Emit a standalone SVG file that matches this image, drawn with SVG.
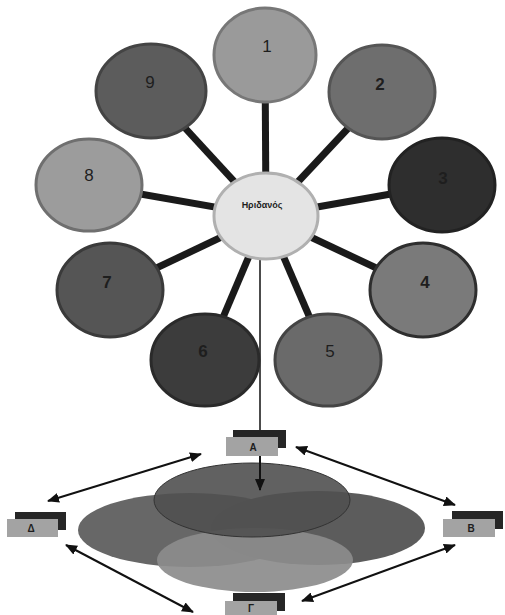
<svg xmlns="http://www.w3.org/2000/svg" width="505" height="615" viewBox="0 0 505 615">
<style>
.spoke{stroke:#1a1a1a;stroke-width:7;stroke-linecap:butt}
.node{stroke-width:3}
.num{font-family:"Liberation Sans",Arial,sans-serif;font-size:17px;fill:#1e1e1e;text-anchor:middle}
.b{font-weight:bold}
.arr{stroke:#111;stroke-width:2;fill:none;marker-start:url(#ah);marker-end:url(#ah)}
.dk{fill:#262626}
.lt{fill:#a3a3a3}
.lbl{font-family:"Liberation Sans",Arial,sans-serif;font-size:10px;font-weight:bold;fill:#1e1e1e;text-anchor:middle}
</style>
<defs>
<marker id="ah" viewBox="0 0 12 10" refX="11" refY="5" markerWidth="12" markerHeight="10" markerUnits="userSpaceOnUse" orient="auto-start-reverse">
<path d="M0,0 L12,5 L0,10 z" fill="#111"/>
</marker>
<marker id="ah1" viewBox="0 0 12 10" refX="11" refY="5" markerWidth="12" markerHeight="10" markerUnits="userSpaceOnUse" orient="auto">
<path d="M0,0 L12,5 L0,10 z" fill="#111"/>
</marker>
</defs>
<rect width="505" height="615" fill="#fff"/>
<g id="connectors">
<line class="spoke" x1="266" y1="216" x2="265" y2="55"/>
<line class="spoke" x1="266" y1="216" x2="382" y2="92"/>
<line class="spoke" x1="266" y1="216" x2="442" y2="185"/>
<line class="spoke" x1="266" y1="216" x2="423" y2="290"/>
<line class="spoke" x1="266" y1="216" x2="328" y2="360"/>
<line class="spoke" x1="266" y1="216" x2="205" y2="360"/>
<line class="spoke" x1="266" y1="216" x2="110" y2="290"/>
<line class="spoke" x1="266" y1="216" x2="89" y2="185"/>
<line class="spoke" x1="266" y1="216" x2="151" y2="91"/>
<line x1="260" y1="258" x2="260" y2="432" stroke="#111" stroke-width="1.5"/>
</g>
<g id="n1"><ellipse class="node" cx="265" cy="55" rx="51" ry="47" fill="#9a9a9a" stroke="#777"/><text class="num" x="267" y="52">1</text></g>
<g id="n2"><ellipse class="node" cx="382" cy="92" rx="53" ry="47" fill="#6e6e6e" stroke="#555"/><text class="num b" x="380" y="90">2</text></g>
<g id="n3"><ellipse class="node" cx="442" cy="185" rx="53" ry="47" fill="#2e2e2e" stroke="#222"/><text class="num b" x="443" y="184">3</text></g>
<g id="n4"><ellipse class="node" cx="423" cy="290" rx="53" ry="47" fill="#7a7a7a" stroke="#2e2e2e"/><text class="num b" x="425" y="288">4</text></g>
<g id="n5"><ellipse class="node" cx="328" cy="360" rx="53" ry="46" fill="#6a6a6a" stroke="#444"/><text class="num" x="330" y="357">5</text></g>
<g id="n6"><ellipse class="node" cx="205" cy="360" rx="54" ry="46" fill="#3c3c3c" stroke="#2a2a2a"/><text class="num b" x="203" y="357">6</text></g>
<g id="n7"><ellipse class="node" cx="110" cy="290" rx="53" ry="47" fill="#555" stroke="#3a3a3a"/><text class="num b" x="107" y="288">7</text></g>
<g id="n8"><ellipse class="node" cx="89" cy="185" rx="53" ry="46" fill="#9c9c9c" stroke="#6f6f6f"/><text class="num" x="89" y="181">8</text></g>
<g id="n9"><ellipse class="node" cx="151" cy="91" rx="55" ry="47" fill="#5c5c5c" stroke="#444"/><text class="num" x="150" y="88">9</text></g>
<g id="center"><ellipse cx="266" cy="216" rx="52" ry="43" fill="#e4e4e4" stroke="#b0b0b0" stroke-width="3"/><text class="lbl" x="262" y="208" style="font-size:9px">Ηριδανός</text></g>
<g id="venn">
<ellipse cx="190" cy="530" rx="112" ry="37" fill="#676767"/>
<ellipse cx="318" cy="528" rx="107" ry="37" fill="#5c5c5c"/>
<ellipse cx="255" cy="560" rx="98" ry="32" fill="#8c8c8c" fill-opacity="0.92"/>
<ellipse cx="252" cy="500" rx="98" ry="37" fill="#505050" fill-opacity="0.9" stroke="#333" stroke-width="1"/>
</g>
<g id="bA"><rect class="dk" x="233" y="430" width="53" height="18"/><rect class="lt" x="226" y="437" width="52" height="19"/><text class="lbl" x="253" y="451">Α</text></g>
<g id="bD"><rect class="dk" x="15" y="512" width="51" height="18"/><rect class="lt" x="7" y="519" width="51" height="18"/><text class="lbl" x="31" y="532">Δ</text></g>
<g id="bB"><rect class="dk" x="452" y="511" width="51" height="18"/><rect class="lt" x="443" y="519" width="52" height="18"/><text class="lbl" x="471" y="532">Β</text></g>
<g id="bG"><rect class="dk" x="233" y="593" width="52" height="18"/><rect class="lt" x="225" y="601" width="52" height="14"/><text class="lbl" x="251" y="612">Γ</text></g>
<g id="arrows">
<line x1="260" y1="456" x2="260" y2="490" stroke="#111" stroke-width="2" marker-end="url(#ah1)"/>
<line class="arr" x1="48" y1="501" x2="201" y2="454"/>
<line class="arr" x1="296" y1="447" x2="455" y2="505"/>
<line class="arr" x1="66" y1="545" x2="193" y2="612"/>
<line class="arr" x1="455" y1="545" x2="302" y2="601"/>
</g>
</svg>
